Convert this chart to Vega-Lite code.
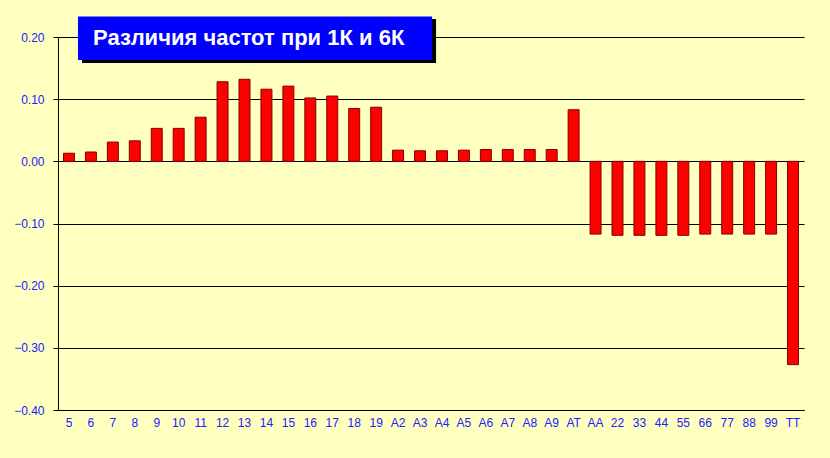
{
  "$schema": "https://vega.github.io/schema/vega-lite/v6.json",
  "width": 746,
  "height": 373,
  "autosize": {"type": "none"},
  "padding": {"left": 58, "top": 37, "right": 26, "bottom": 48},
  "background": "#FFFFC0",
  "config": {
    "view": {"stroke": null},
    "font": "Liberation Sans"
  },
  "data": {
    "values": [
      {"k": "5", "v": 0.013}, {"k": "6", "v": 0.015}, {"k": "7", "v": 0.031}, {"k": "8", "v": 0.033},
      {"k": "9", "v": 0.053}, {"k": "10", "v": 0.053}, {"k": "11", "v": 0.071}, {"k": "12", "v": 0.128},
      {"k": "13", "v": 0.132}, {"k": "14", "v": 0.116}, {"k": "15", "v": 0.121}, {"k": "16", "v": 0.102},
      {"k": "17", "v": 0.105}, {"k": "18", "v": 0.085}, {"k": "19", "v": 0.087}, {"k": "A2", "v": 0.018},
      {"k": "A3", "v": 0.017}, {"k": "A4", "v": 0.017}, {"k": "A5", "v": 0.018}, {"k": "A6", "v": 0.019},
      {"k": "A7", "v": 0.019}, {"k": "A8", "v": 0.019}, {"k": "A9", "v": 0.019}, {"k": "AT", "v": 0.083},
      {"k": "AA", "v": -0.117}, {"k": "22", "v": -0.119}, {"k": "33", "v": -0.119}, {"k": "44", "v": -0.119},
      {"k": "55", "v": -0.119}, {"k": "66", "v": -0.117}, {"k": "77", "v": -0.117}, {"k": "88", "v": -0.117},
      {"k": "99", "v": -0.117}, {"k": "TT", "v": -0.327}
    ]
  },
  "encoding": {
    "x": {
      "field": "k", "type": "nominal", "sort": null,
      "scale": {"paddingInner": 0.5, "paddingOuter": 0.25},
      "axis": {
        "title": null, "labelAngle": 0, "ticks": false, "tickSize": 0,
        "labelPadding": 7, "labelColor": "#2020FF", "labelFontSize": 12,
        "labelFont": "Liberation Sans", "domainColor": "#000000", "domainWidth": 1,
        "grid": false
      }
    }
  },
  "layer": [
    {
      "mark": {"type": "bar", "fill": "#FF0000", "stroke": "#800000", "strokeWidth": 1},
      "encoding": {
        "y": {
          "field": "v", "type": "quantitative",
          "scale": {"domain": [-0.4, 0.2], "nice": false, "zero": false},
          "axis": {
            "title": null, "values": [-0.4, -0.3, -0.2, -0.1, 0, 0.1, 0.2],
            "format": ".2f", "grid": true, "gridColor": "#000000", "gridOpacity": 1, "gridWidth": 1,
            "domainColor": "#000000", "domainWidth": 1, "tickColor": "#000000", "tickSize": 5,
            "labelPadding": 9, "labelColor": "#2020FF", "labelFontSize": 12,
            "labelFont": "Liberation Sans"
          }
        }
      }
    },
    {
      "data": {"values": [{"t": "shadow"}]},
      "mark": {"type": "rect", "fill": "#000000"},
      "encoding": {
        "x": {"datum": "5", "bandPosition": 1.69, "type": "nominal"},
        "x2": {"datum": "A3", "bandPosition": 1.96},
        "y": {"datum": 0.229, "type": "quantitative"},
        "y2": {"datum": 0.158}
      }
    },
    {
      "data": {"values": [{"t": "box"}]},
      "mark": {"type": "rect", "fill": "#0000FF"},
      "encoding": {
        "x": {"datum": "5", "bandPosition": 1.32, "type": "nominal"},
        "x2": {"datum": "A3", "bandPosition": 1.6},
        "y": {"datum": 0.233, "type": "quantitative"},
        "y2": {"datum": 0.163}
      }
    },
    {
      "data": {"values": [{"t": "Различия частот при 1К и 6К"}]},
      "mark": {"type": "text", "color": "#FFFFFF", "fontSize": 22, "fontWeight": "bold", "align": "left", "baseline": "middle", "font": "Liberation Sans"},
      "encoding": {
        "x": {"datum": "5", "bandPosition": 2.7, "type": "nominal"},
        "y": {"datum": 0.198, "type": "quantitative"},
        "text": {"field": "t"}
      }
    }
  ]
}
